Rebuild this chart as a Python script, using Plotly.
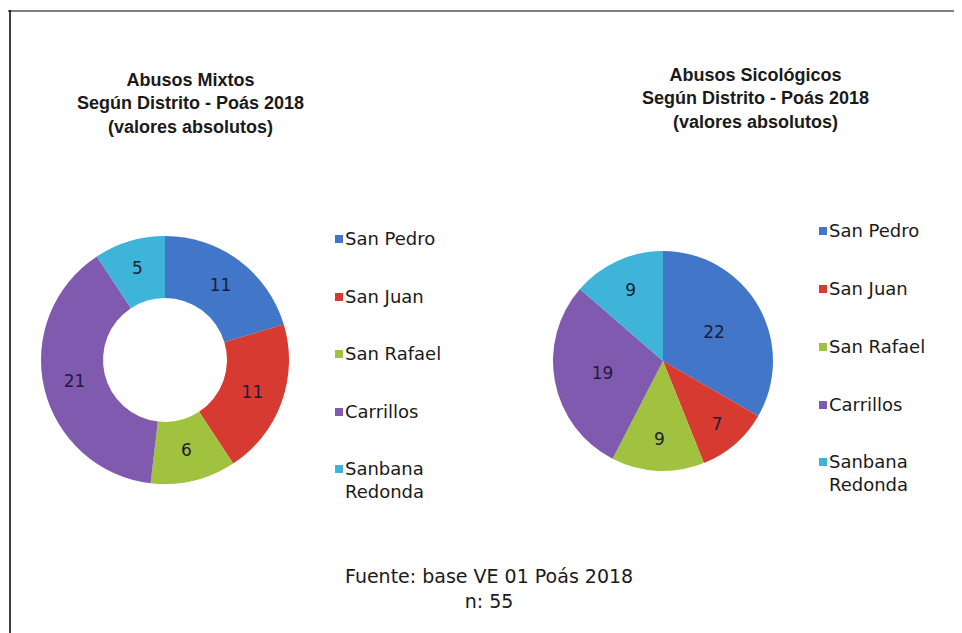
import plotly.graph_objects as go

labels = ["San Pedro", "San Juan", "San Rafael", "Carrillos", "Sanbana Redonda"]
legend_text = ["San Pedro", "San Juan", "San Rafael", "Carrillos", "Sanbana<br>Redonda"]
mixtos = [11, 11, 6, 21, 5]
sicologicos = [22, 7, 9, 19, 9]
colors = ["#4276c9", "#d63a31", "#a0c23e", "#7f5aae", "#3db4d8"]

title_left = "Abusos Mixtos<br>Según Distrito - Poás 2018<br>(valores absolutos)"
title_right = "Abusos Sicológicos<br>Según Distrito - Poás 2018<br>(valores absolutos)"
source = "Fuente: base VE 01 Poás 2018<br>n: 55"

# page body has an 8px margin; the figure is sized to fill the rest of the window
OFF = 8
W, H = 962 - OFF, 633 - OFF

def px(x):
    return (x - OFF) / W

def py(y):
    return 1 - (y - OFF) / H

fig = go.Figure()

fig.add_trace(go.Pie(
    labels=labels, values=mixtos, hole=0.5, sort=False, direction="clockwise",
    rotation=0, marker=dict(colors=colors, line=dict(width=0)),
    textinfo="value", textposition="inside", insidetextorientation="horizontal",
    textfont=dict(family="DejaVu Sans", size=17, color="#1d1d3a"),
    domain=dict(x=[px(41), px(289)], y=[py(484), py(236)]),
    showlegend=False,
))
fig.add_trace(go.Pie(
    labels=labels, values=sicologicos, sort=False, direction="clockwise",
    rotation=0, marker=dict(colors=colors, line=dict(width=0)),
    textinfo="value", textposition="inside", insidetextorientation="horizontal",
    textfont=dict(family="DejaVu Sans", size=17, color="#1d1d3a"),
    domain=dict(x=[px(553), px(773)], y=[py(471), py(251)]),
    showlegend=False,
))

annotations = []
shapes = []

# titles
title_font = dict(family="Liberation Sans, Arial", size=18, color="#1a1a1a")
annotations.append(dict(text="<b>" + title_left + "</b>", x=px(190), y=py(104), xref="paper", yref="paper",
                        showarrow=False, font=title_font,
                        xanchor="center", yanchor="middle", align="center"))
annotations.append(dict(text="<b>" + title_right + "</b>", x=px(755), y=py(99), xref="paper", yref="paper",
                        showarrow=False, font=title_font,
                        xanchor="center", yanchor="middle", align="center"))

# legends
legend_specs = [(335, [238, 296, 353, 411, 468]), (819, [230, 288, 346, 404, 461])]
for lx, ys in legend_specs:
    for lab, col, yy in zip(legend_text, colors, ys):
        shapes.append(dict(type="rect", xref="paper", yref="paper",
                           x0=px(lx), x1=px(lx + 8), y0=py(yy + 5), y1=py(yy - 3),
                           fillcolor=col, line=dict(width=0)))
        annotations.append(dict(text=lab, x=px(lx + 8), y=py(yy - 12), xref="paper", yref="paper",
                                showarrow=False, xanchor="left", yanchor="top", align="left",
                                font=dict(family="DejaVu Sans", size=18, color="#1a1a1a")))

# source
annotations.append(dict(text=source, x=px(489), y=py(588), xref="paper", yref="paper",
                        showarrow=False, xanchor="center", yanchor="middle", align="center",
                        font=dict(family="DejaVu Sans", size=19, color="#1a1a1a")))

# frame lines
shapes.append(dict(type="line", xref="paper", yref="paper", x0=0, x1=1, y0=py(11), y1=py(11),
                   line=dict(color="#7f7f7f", width=2)))
shapes.append(dict(type="line", xref="paper", yref="paper", x0=px(10), x1=px(10), y0=py(10), y1=0,
                   line=dict(color="#000000", width=1.5)))

fig.update_layout(
    width=W, height=H, margin=dict(l=0, r=0, t=0, b=0),
    paper_bgcolor="white", plot_bgcolor="white",
    annotations=annotations, shapes=shapes,
)

fig.write_html("out.html")
